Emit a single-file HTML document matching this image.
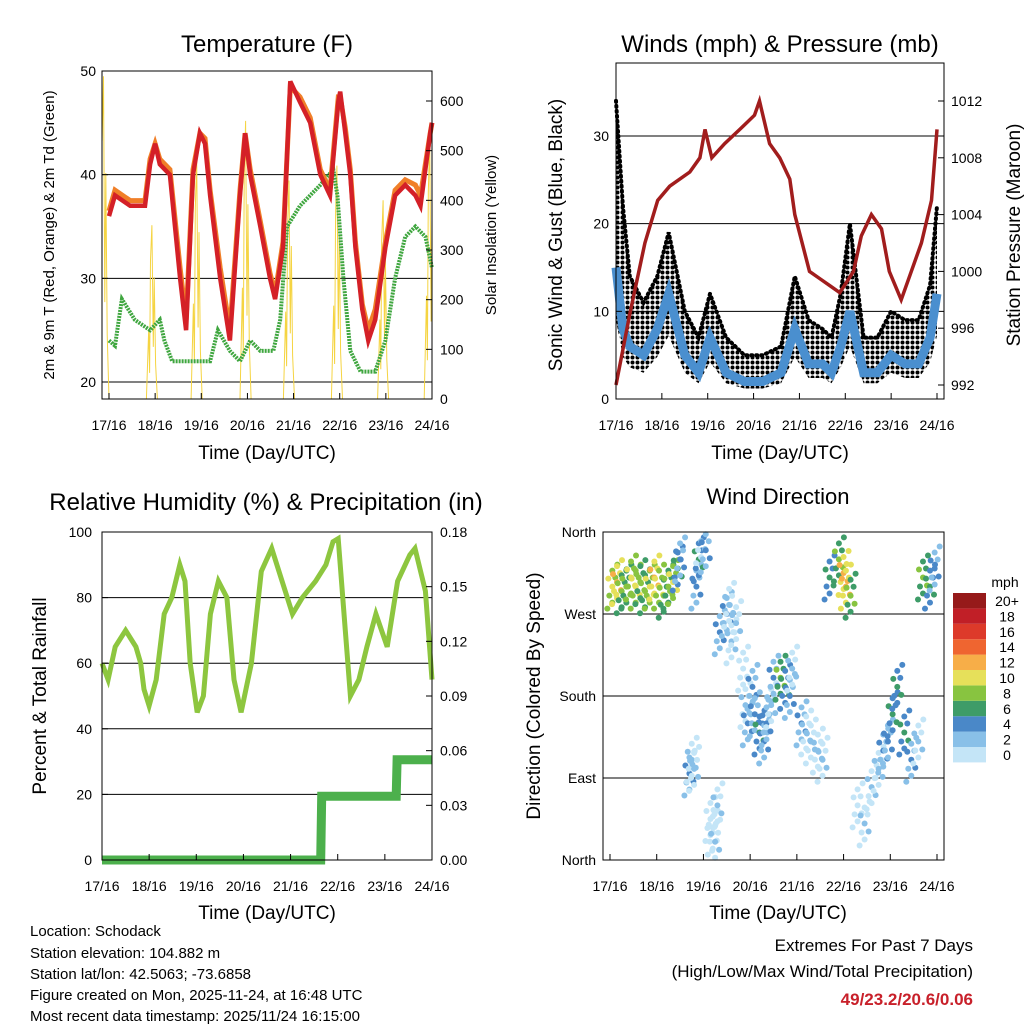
<!DOCTYPE html>
<html><head><meta charset="utf-8">
<style>
body{margin:0;background:#fff;}
svg{display:block;font-family:"Liberation Sans",Arial,sans-serif;}
</style></head>
<body>
<svg id="c" width="1024" height="1024" viewBox="0 0 1024 1024" xmlns="http://www.w3.org/2000/svg">
<defs>
<pattern id="dots" width="5" height="5" patternUnits="userSpaceOnUse"><circle cx="2.5" cy="2.5" r="2" fill="#000"/></pattern>
</defs>
<g id="g1"></g>
<g id="g2"></g>
<g id="g3"></g>
<g id="g4"></g>
<g id="txt">
<text x="30" y="936" font-size="15">Location: Schodack</text>
<text x="30" y="958" font-size="15">Station elevation: 104.882 m</text>
<text x="30" y="979" font-size="15">Station lat/lon: 42.5063; -73.6858</text>
<text x="30" y="1000" font-size="15">Figure created on Mon, 2025-11-24, at 16:48 UTC</text>
<text x="30" y="1021" font-size="15">Most recent data timestamp: 2025/11/24 16:15:00</text>
<text x="973" y="951" font-size="17" text-anchor="end">Extremes For Past 7 Days</text>
<text x="973" y="977" font-size="17" text-anchor="end">(High/Low/Max Wind/Total Precipitation)</text>
<text x="973" y="1005" font-size="17" font-weight="bold" fill="#c8202a" text-anchor="end">49/23.2/20.6/0.06</text>
</g>
</svg>
<script>
var dayLabels = ["17/16","18/16","19/16","20/16","21/16","22/16","23/16","24/16"];
var tempT = [0,0.13,0.46,0.78,0.89,1.0,1.1,1.32,1.54,1.67,1.82,1.97,2.08,2.19,2.41,2.62,2.84,2.95,3.06,3.28,3.49,3.6,3.77,3.93,4.14,4.36,4.58,4.79,4.97,5.01,5.12,5.23,5.34,5.49,5.62,5.77,5.99,6.2,6.42,6.64,6.75,6.96,7.0];
var tempRed = [36,38,37,37,41,43,41,40,30,25,40,44,43,38,30,24,38,44,40,35,30,28,33,49,47,45,40,38,47,48,44,40,33,27,24,26,33,38,39,38,37,44,45];
var tempOrange = [36.5,38.5,37.5,37.5,41.5,43,41.5,40.5,31,26,40.5,44,43.5,38.5,31,25,38.5,44,40.5,35.5,30.5,28.5,33.5,48.5,47.5,45.5,40.5,38.5,47.5,47.5,44.5,40.5,33.5,27.5,25,27,33.5,38.5,39.5,39,38,44,45];
var dewT = [0,0.13,0.28,0.56,0.89,1.1,1.2,1.37,1.76,2.19,2.36,2.62,2.84,3.06,3.28,3.56,3.71,3.86,4.14,4.58,4.86,4.95,5.08,5.23,5.45,5.77,5.99,6.2,6.42,6.64,6.86,7.0];
var dewVal = [24,23.5,28,26,25,26,24,22,22,22,25,23,22,24,23,23,26,35,37,39,40.5,38,30,23,21,21,24,30,34,35,34,31];
var solarPeakT = [-0.12,0.93,1.9,2.96,3.9,4.94,5.94,6.95];
var solarPeak = [650,350,480,560,440,470,400,520];
var windT = [0,0.15,0.3,0.6,0.9,1.15,1.5,1.8,2.05,2.4,2.8,3.2,3.6,3.9,4.2,4.5,4.7,4.9,5.1,5.4,5.7,6.0,6.3,6.6,6.85,7.0];
var windSonic = [15,8,6,5,8,12,5,3,7,3,2,2,3,8,4,4,3,6,10,3,3,5,4,4,7,12];
var windGust = [34,22,14,11,14,19,10,7,12,7,5,5,6,14,9,8,7,12,20,7,7,10,9,9,13,22];
var presT = [0,0.3,0.63,0.91,1.17,1.61,1.83,1.94,2.09,2.37,2.7,3.02,3.13,3.35,3.57,3.79,3.9,4.22,4.44,4.66,4.88,5.18,5.35,5.57,5.79,5.96,6.22,6.44,6.66,6.88,7.0];
var presVal = [992,997,1002,1005,1006,1007,1008,1010,1008,1009,1010,1011,1012,1009,1008,1006.5,1004,1000,999.5,999,998.5,1000,1002.5,1004,1003,1000,998,1000,1002,1005,1010];
var rhT = [0,0.13,0.28,0.5,0.72,0.82,0.89,1.0,1.15,1.32,1.48,1.65,1.76,1.87,2.02,2.15,2.3,2.47,2.65,2.8,2.95,3.17,3.38,3.6,3.82,4.04,4.25,4.53,4.75,4.9,5.01,5.16,5.27,5.45,5.62,5.81,6.05,6.27,6.53,6.64,6.86,7.0];
var rhVal = [60,55,65,70,65,60,52,47,55,75,80,90,85,60,45,50,75,85,80,55,45,60,88,95,85,75,80,85,90,97,98,70,50,55,65,75,65,85,93,95,82,55];
var precipT = [0,4.64,4.66,6.24,6.26,7.0];
var precipVal = [0,0,0.035,0.035,0.055,0.055];
var dirT = [0.05,0.15,0.25,0.35,0.45,0.55,0.65,0.75,0.85,0.95,1.05,1.15,1.25,1.35,1.45,1.5,1.7,1.75,1.8,1.85,1.9,1.95,2.05,2.15,2.2,2.25,2.3,2.35,2.5,2.55,2.6,2.7,2.85,2.9,2.95,3.05,3.1,3.2,3.3,3.35,3.45,3.5,3.65,3.75,3.85,3.9,4.1,4.2,4.3,4.45,4.55,4.7,4.9,5.0,5.05,5.15,5.3,5.45,5.6,5.75,5.85,5.95,6.05,6.15,6.3,6.45,6.6,6.7,6.85,6.95];
var dirVal = [300,305,295,300,310,300,305,295,300,310,300,290,300,305,320,330,95,110,100,300,330,350,340,45,30,20,60,250,270,280,240,260,210,170,150,190,160,140,130,150,170,200,200,190,180,210,150,140,130,120,110,310,330,315,300,290,60,40,80,100,120,130,160,190,140,110,130,310,300,320];
var dirSpd = [10,12,9,8,11,10,9,8,10,12,11,9,8,10,6,4,4,3,2,5,6,3,4,1,1,2,2,4,5,3,2,3,1,3,4,5,4,6,4,4,3,5,8,6,4,3,4,3,3,2,2,6,8,12,12,9,1,2,3,3,4,5,6,7,6,4,2,8,6,5];
var speedBins = ["0","2","4","6","8","10","12","14","16","18","20+"];
var binColors = ["#c4e5f7","#89c0e8","#4a88c8","#3e9c68","#88c440","#e6e05a","#f7ae48","#ef6530","#dd3a2a","#c11f27","#961a1a"];

var NS="http://www.w3.org/2000/svg";
function mk(p,tag,attrs){var e=document.createElementNS(NS,tag);for(var k in attrs)e.setAttribute(k,attrs[k]);p.appendChild(e);return e;}
function txt(p,x,y,s,size,anchor,rot){var e=mk(p,"text",{x:x,y:y,"font-size":size,"text-anchor":anchor||"middle"});if(rot)e.setAttribute("transform","rotate("+rot+" "+x+" "+y+")");e.textContent=s;return e;}
function scale(d0,d1,r0,r1){return function(v){return r0+(v-d0)/(d1-d0)*(r1-r0);};}
function pathD(xs,ys,X,Y){var d="";for(var i=0;i<xs.length;i++)d+=(i?"L":"M")+X(xs[i]).toFixed(1)+","+Y(ys[i]).toFixed(1);return d;}
function xAxis(g,X,y){for(var i=0;i<dayLabels.length;i++){var x=X(i);mk(g,"line",{x1:x,x2:x,y1:y,y2:y-6,stroke:"#000"});var t=txt(g,x,y+31,dayLabels[i],14);}}
function box(g,x0,y0,x1,y1){mk(g,"rect",{x:x0,y:y0,width:x1-x0,height:y1-y0,fill:"none",stroke:"#000","stroke-width":1});}

(function(){
var g=document.getElementById("g1");
var X=scale(0,7,109,432),Y=scale(20,50,382,71),Ys=scale(0,600,399,101);
[20,30,40,50].forEach(function(v){mk(g,"line",{x1:102,x2:432,y1:Y(v),y2:Y(v),stroke:"#000"});});
var sg=mk(g,"g",{});
for(var i=0;i<solarPeakT.length;i++){var t=solarPeakT[i],p=solarPeak[i];
 var xs=[t-0.12,t-0.07,t-0.05,t-0.03,t,t+0.03,t+0.05,t+0.08,t+0.12],ys=[0,p*0.4,p*0.15,p*0.8,p,p*0.3,p*0.7,p*0.2,0];
 var xx=[],yy=[];for(var k=0;k<xs.length;k++){if(xs[k]>=-0.15&&xs[k]<=7){xx.push(xs[k]);yy.push(ys[k]);}}
 mk(sg,"path",{d:pathD(xx,yy,X,Ys),fill:"none",stroke:"#f5d442","stroke-width":1});}
var d=mk(g,"path",{d:pathD(dewT,dewVal,X,Y),fill:"none",stroke:"#3fa63f","stroke-width":4,"stroke-dasharray":"2 1"});
var o=mk(g,"path",{d:pathD(tempT,tempOrange,X,Y),fill:"none",stroke:"#f07f28","stroke-width":5});
var r=mk(g,"path",{d:pathD(tempT,tempRed,X,Y),fill:"none",stroke:"#d42027","stroke-width":4.5});
mk(g,"rect",{x:0,y:60,width:101,height:350,fill:"#fff"});
box(g,102,71,432,399);
[20,30,40,50].forEach(function(v){mk(g,"line",{x1:102,x2:108,y1:Y(v),y2:Y(v),stroke:"#000"});txt(g,96,Y(v)+5,v,14,"end");});
[0,100,200,300,400,500,600].forEach(function(v){mk(g,"line",{x1:432,x2:426,y1:Ys(v),y2:Ys(v),stroke:"#000"});txt(g,440,Ys(v)+5,v,14,"start");});
xAxis(g,X,399);
txt(g,267,52,"Temperature (F)",24);
txt(g,267,459,"Time (Day/UTC)",19);
txt(g,54,235,"2m & 9m T (Red, Orange) & 2m Td (Green)",15,"middle",-90);
txt(g,496,235,"Solar Insolation (Yellow)",15,"middle",-90);
})();

(function(){
var g=document.getElementById("g2");
var X=scale(0,7,616,937),Y=scale(0,30,399,136),Yp=scale(992,1012,385,101);
[10,20,30].forEach(function(v){mk(g,"line",{x1:616,x2:944,y1:Y(v),y2:Y(v),stroke:"#000"});});
var gg=mk(g,"g",{});
var dA=pathD(windT,windGust,X,Y);
for(var i=windT.length-1;i>=0;i--)dA+="L"+X(windT[i]).toFixed(1)+","+Y(windSonic[i]*0.6).toFixed(1);
mk(gg,"path",{d:dA+"Z",fill:"url(#dots)",stroke:"none"});
mk(gg,"path",{d:pathD(windT,windGust,X,Y),fill:"none",stroke:"#000","stroke-width":4,"stroke-dasharray":"1 4","stroke-linecap":"round"});
var b=mk(g,"path",{d:pathD(windT,windSonic,X,Y),fill:"none",stroke:"#4a8fcf","stroke-width":9});
var p=mk(g,"path",{d:pathD(presT,presVal,X,Yp),fill:"none",stroke:"#a11d1d","stroke-width":3.5});
box(g,616,63,944,399);
[0,10,20,30].forEach(function(v){mk(g,"line",{x1:616,x2:622,y1:Y(v),y2:Y(v),stroke:"#000"});txt(g,609,Y(v)+5,v,14,"end");});
[992,996,1000,1004,1008,1012].forEach(function(v){mk(g,"line",{x1:944,x2:938,y1:Yp(v),y2:Yp(v),stroke:"#000"});txt(g,951,Yp(v)+5,v,14,"start");});
xAxis(g,X,399);
txt(g,780,52,"Winds (mph) & Pressure (mb)",24);
txt(g,780,459,"Time (Day/UTC)",19);
txt(g,562,235,"Sonic Wind & Gust (Blue, Black)",19,"middle",-90);
txt(g,1020,235,"Station Pressure (Maroon)",19,"middle",-90);
})();

(function(){
var g=document.getElementById("g3");
var X=scale(0,7,102,432),Y=scale(0,100,860,532),Yr=scale(0,0.18,860,532);
[20,40,60,80].forEach(function(v){mk(g,"line",{x1:102,x2:432,y1:Y(v),y2:Y(v),stroke:"#000"});});
var r=mk(g,"path",{d:pathD(rhT,rhVal,X,Y),fill:"none",stroke:"#8dc63f","stroke-width":5});
var p=mk(g,"path",{d:pathD(precipT,precipVal,X,Yr),fill:"none",stroke:"#4cb04c","stroke-width":9});
box(g,102,532,432,860);
[0,20,40,60,80,100].forEach(function(v){mk(g,"line",{x1:102,x2:108,y1:Y(v),y2:Y(v),stroke:"#000"});txt(g,92,Y(v)+5,v,14,"end");});
[0,0.03,0.06,0.09,0.12,0.15,0.18].forEach(function(v){mk(g,"line",{x1:432,x2:426,y1:Yr(v),y2:Yr(v),stroke:"#000"});txt(g,440,Yr(v)+5,v.toFixed(2),14,"start");});
xAxis(g,X,860);
txt(g,266,510,"Relative Humidity (%) & Precipitation (in)",24);
txt(g,267,919,"Time (Day/UTC)",19);
txt(g,46,696,"Percent & Total Rainfall",19,"middle",-90);
})();

(function(){
var g=document.getElementById("g4");
var X=scale(0,7,610,937),Y=scale(0,360,860,532);
[90,180,270].forEach(function(v){mk(g,"line",{x1:603,x2:944,y1:Y(v),y2:Y(v),stroke:"#000"});});
var dg=mk(g,"g",{});
var offs=[[0,0],[-4,-8],[4,8],[-3,9],[3,-9],[0,-16],[0,16],[-5,22],[5,-22]];
for(var i=0;i<dirT.length;i++){var bi=Math.min(10,Math.floor(dirSpd[i]/2));
 for(var k=0;k<offs.length;k++){var cy=Y(dirVal[i])+offs[k][1];if(cy<534||cy>858)continue;
  mk(dg,"circle",{cx:X(dirT[i])+offs[k][0],cy:cy,r:3,fill:binColors[Math.max(0,bi-(k>2?1:0))]});}}
box(g,603,532,944,860);
var names=["North","East","South","West","North"];
[0,90,180,270,360].forEach(function(v,i){mk(g,"line",{x1:603,x2:609,y1:Y(v),y2:Y(v),stroke:"#000"});txt(g,596,Y(v)+5,names[i],14,"end");});
xAxis(g,X,860);
txt(g,778,504,"Wind Direction",22);
txt(g,778,919,"Time (Day/UTC)",19);
txt(g,540,696,"Direction (Colored By Speed)",19,"middle",-90);
var lg=mk(g,"g",{});
txt(lg,1005,587,"mph",14);
for(var j=0;j<speedBins.length;j++){var yy=747-j*15.4;mk(lg,"rect",{x:953,y:yy,width:33,height:15.4,fill:binColors[j]});txt(lg,1007,yy+13,speedBins[j],14);}
})();
</script>
</body></html>
